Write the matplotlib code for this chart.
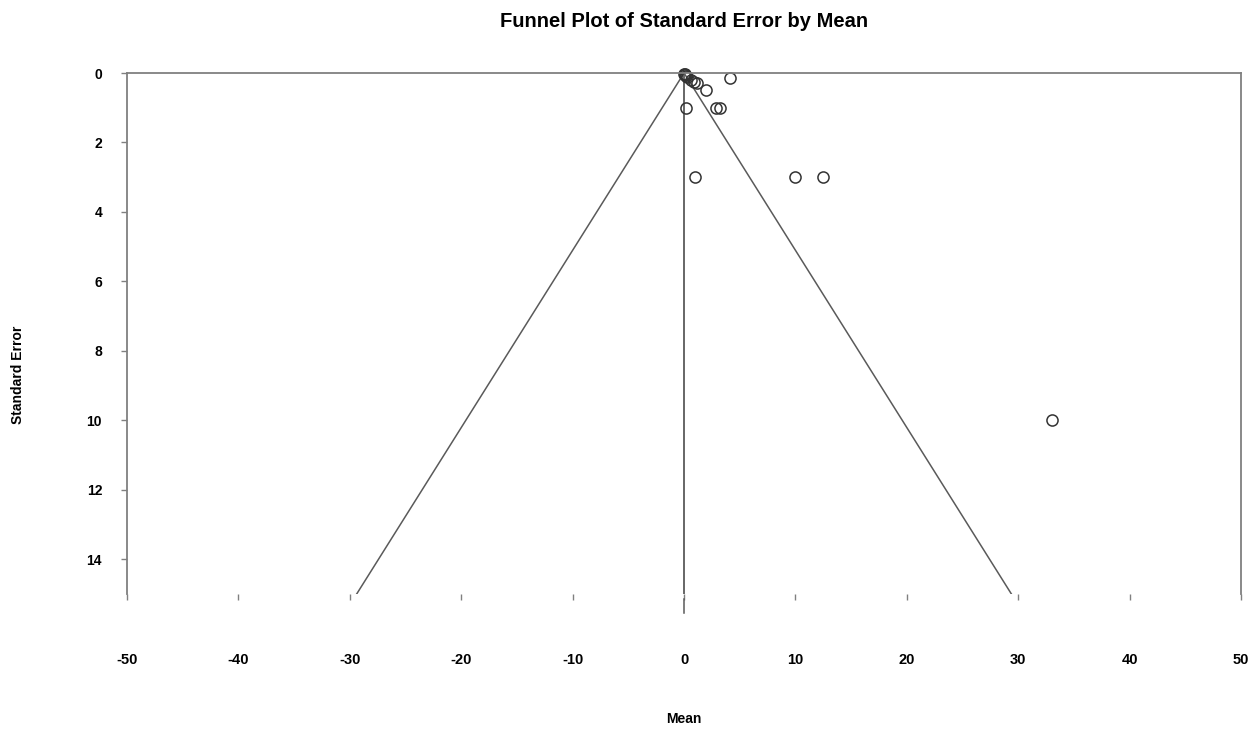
import numpy as np
import matplotlib.pyplot as plt

plt.rcParams['font.family'] = ['Liberation Sans', 'DejaVu Sans']
plt.rcParams['axes.unicode_minus'] = False

# study estimates
means = [0.0, 0.05, 0.1, 0.2, 0.3, 0.6, 0.9, 1.2, 4.1, 2.0, 0.15, 2.9, 3.2, 1.0, 10.0, 12.5, 33.0]
std_errs = [0.02, 0.04, 0.06, 0.08, 0.12, 0.2, 0.27, 0.3, 0.15, 0.5, 1.0, 1.0, 1.0, 3.0, 3.0, 3.0, 10.0]

pooled_mean = 0.0
z = 1.96
se_max = 15
x_ticks = [-50, -40, -30, -20, -10, 0, 10, 20, 30, 40, 50]
y_ticks = [0, 2, 4, 6, 8, 10, 12, 14]

line_col = '#5a5a5a'

fig = plt.figure(figsize=(12.58, 7.30), dpi=100)
ax = fig.add_axes([0.101, 0.186, 0.8855, 0.714])

# funnel lines
se_line = np.array([0, se_max])
ax.plot(pooled_mean - z * se_line, se_line, color=line_col, lw=1.1)
ax.plot(pooled_mean + z * se_line, se_line, color=line_col, lw=1.1)
ax.plot([pooled_mean, pooled_mean], [0, se_max], color=line_col, lw=1.3)
ax.plot([pooled_mean, pooled_mean], [se_max + 0.15, se_max + 0.55], color=line_col,
        lw=1.1, clip_on=False)

ax.plot(means, std_errs, linestyle='none', marker='o', markersize=8,
        markerfacecolor='none', markeredgecolor='#333333', markeredgewidth=1.1,
        clip_on=False)

ax.set_xlim(-50, 50)
ax.set_ylim(se_max, 0)
ax.set_xticks(x_ticks)
ax.set_yticks(y_ticks)

for s in ['left', 'top', 'right']:
    ax.spines[s].set_color('#808080')
    ax.spines[s].set_linewidth(1.3)
ax.spines['bottom'].set_visible(False)

ax.tick_params(axis='x', length=4, width=1, color='#808080', pad=38,
               labelsize=10.5)
ax.tick_params(axis='y', length=4, width=1, color='#808080', pad=14,
               labelsize=10)
for lab in ax.get_xticklabels() + ax.get_yticklabels():
    lab.set_fontweight('bold')

ax.set_title('Funnel Plot of Standard Error by Mean', fontsize=14.5,
             fontweight='bold', pad=33)
ax.set_xlabel('Mean', fontsize=10, fontweight='bold')
ax.xaxis.set_label_coords(0.5, -0.226)
ax.set_ylabel('Standard Error', fontsize=10, fontweight='bold')
ax.yaxis.set_label_coords(-0.0916, 0.42)

fig.savefig('out.png', dpi=100)
